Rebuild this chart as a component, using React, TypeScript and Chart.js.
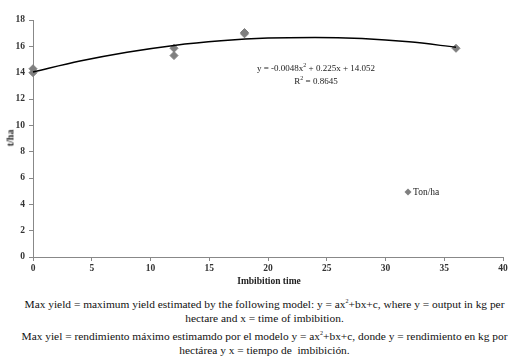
import React, { useEffect, useRef } from "react";
import { Chart, registerables } from "chart.js";
Chart.register(...registerables);

const obsX = [0, 0, 12, 12, 18, 18, 36];
const obsY = [14.3, 14.0, 15.85, 15.3, 17.05, 16.95, 15.85];
const trendX = [0, 4, 8, 12, 16, 20, 24, 28, 32, 36];
const trendY = [14.05, 14.88, 15.55, 16.07, 16.42, 16.63, 16.68, 16.59, 16.34, 15.93];
const xTicks = [0, 5, 10, 15, 20, 25, 30, 35, 40];
const yTicks = [0, 2, 4, 6, 8, 10, 12, 14, 16, 18];
const seriesName = "Ton/ha";
const xTitle = "Imbibition time";
const yTitle = "t/ha";

const legendPlugin = {
  id: "customLegend",
  afterDraw(chart: any) {
    const ctx = chart.ctx;
    const x = 408, y = 192;
    ctx.save();
    ctx.fillStyle = "#7f7f7f";
    ctx.beginPath();
    ctx.moveTo(x, y - 3.5);
    ctx.lineTo(x + 3.5, y);
    ctx.lineTo(x, y + 3.5);
    ctx.lineTo(x - 3.5, y);
    ctx.closePath();
    ctx.fill();
    ctx.fillStyle = "#222";
    ctx.font = "9.5px 'Liberation Serif', serif";
    ctx.textBaseline = "middle";
    ctx.fillText(seriesName, x + 5, y);
    ctx.restore();
  },
};

export default function App() {
  const ref = useRef<HTMLCanvasElement>(null);
  useEffect(() => {
    const chart = new Chart(ref.current!, {
      type: "scatter",
      data: {
        datasets: [
          {
            type: "line",
            data: trendX.map((x, i) => ({ x, y: trendY[i] })),
            borderColor: "#000",
            borderWidth: 1.5,
            pointRadius: 0,
            cubicInterpolationMode: "monotone",
            fill: false,
            clip: false,
          } as any,
          {
            data: obsX.map((x, i) => ({ x, y: obsY[i] })),
            pointStyle: "rectRot",
            pointRadius: 4,
            backgroundColor: "#7f7f7f",
            borderColor: "#7f7f7f",
            clip: false,
          },
        ],
      },
      options: {
        animation: false,
        responsive: false,
        layout: { padding: { left: 0, right: 26, top: 20, bottom: 0 } },
        plugins: { legend: { display: false }, tooltip: { enabled: false } },
        scales: {
          x: {
            type: "linear",
            min: 0,
            max: 40,
            afterBuildTicks: (s: any) => { s.ticks = xTicks.map((v) => ({ value: v })); },
            afterFit: (s: any) => { s.height = 33; },
            grid: { display: true, drawOnChartArea: false, drawTicks: true, tickLength: 4, color: "#888" },
            border: { color: "#888", width: 1 },
            ticks: { color: "#333", font: { family: "'Liberation Serif', serif", size: 9.5, weight: "bold" }, padding: 2 },
          },
          y: {
            type: "linear",
            min: 0,
            max: 18,
            afterBuildTicks: (s: any) => { s.ticks = yTicks.map((v) => ({ value: v })); },
            afterFit: (s: any) => { s.width = 33; },
            grid: { display: true, drawOnChartArea: false, drawTicks: true, tickLength: 4, color: "#888" },
            border: { color: "#888", width: 1 },
            ticks: { color: "#333", font: { family: "'Liberation Serif', serif", size: 9.5, weight: "bold" }, padding: 4 },
          },
        },
      },
      plugins: [legendPlugin],
    } as any);
    return () => chart.destroy();
  }, []);

  const serif = "'Liberation Serif', 'DejaVu Serif', serif";
  return (
    <div style={{ position: "absolute", left: 0, top: 0, width: 529, height: 359, background: "#fff", fontFamily: serif }}>
      <canvas ref={ref} width={529} height={290} style={{ position: "absolute", left: 0, top: 0 }} />
      <div style={{ position: "absolute", left: 10, top: 138, transform: "translate(-50%,-50%) rotate(-90deg)", fontSize: 10, fontWeight: "bold", color: "#222", whiteSpace: "nowrap" }}>{yTitle}</div>
      <div style={{ position: "absolute", left: 269, top: 281, transform: "translate(-50%,-50%)", fontSize: 9.5, fontWeight: "bold", color: "#222", whiteSpace: "nowrap" }}>{xTitle}</div>
      <div style={{ position: "absolute", left: 316, top: 60, transform: "translateX(-50%)", fontSize: 9, color: "#222", textAlign: "center", lineHeight: "10px", whiteSpace: "nowrap" }}>
        <div>y = -0.0048x<sup style={{ fontSize: 6 }}>2</sup> + 0.225x + 14.052</div>
        <div>R<sup style={{ fontSize: 6 }}>2</sup> = 0.8645</div>
      </div>
      <div style={{ position: "absolute", left: 0, top: 297, width: 529, textAlign: "center", fontSize: 11.4, color: "#111", lineHeight: "14px" }}>
        <div>Max yield = maximum yield estimated by the following model: y = ax<sup style={{ fontSize: 6, lineHeight: 0 }}>2</sup>+bx+c, where y = output in kg per<br />hectare and x = time of imbibition.</div>
        <div style={{ marginTop: 4 }}>Max yiel = rendimiento máximo estimamdo por el modelo y = ax<sup style={{ fontSize: 6, lineHeight: 0 }}>2</sup>+bx+c, donde y = rendimiento en kg por<br />hectárea y x = tiempo de&nbsp; imbibición.</div>
      </div>
    </div>
  );
}
